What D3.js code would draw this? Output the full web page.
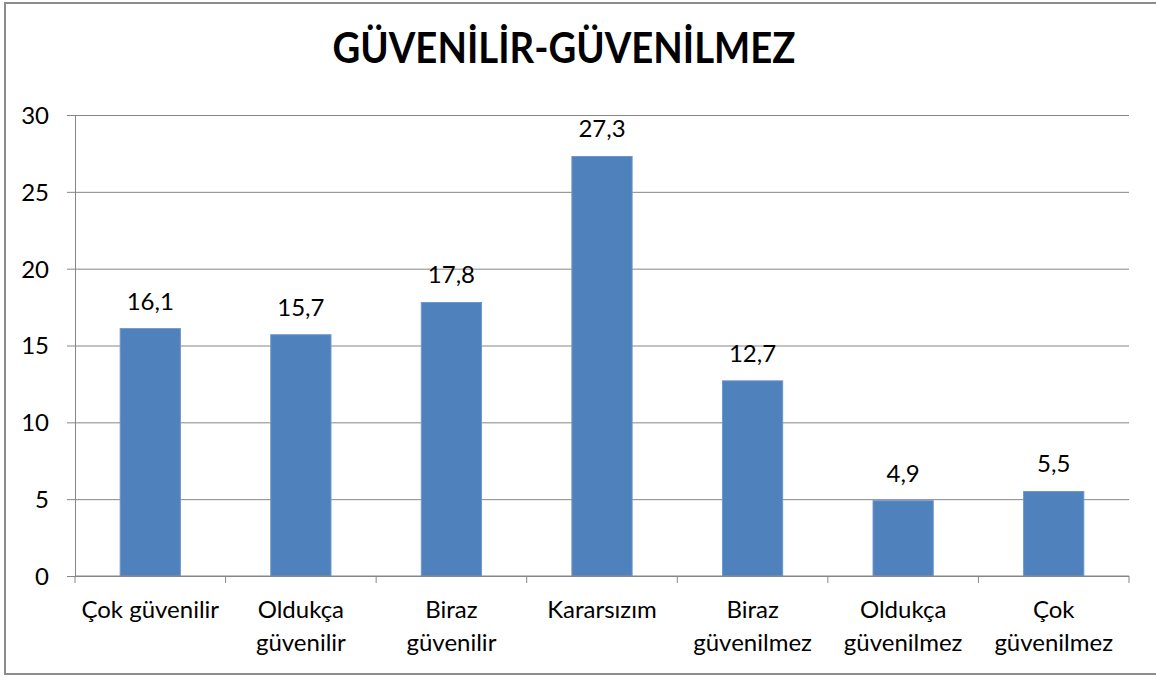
<!DOCTYPE html>
<html>
<head>
<meta charset="utf-8">
<script src="https://cdn.jsdelivr.net/npm/d3@7"></script>
<style>
  body { margin: 0; background: #fff; }
  svg text { font-family: Lato, "Open Sans", sans-serif; fill: #000; }
</style>
</head>
<body>
<div id="chart"></div>
<script>
// Chart data
var titleText = "GÜVENİLİR-GÜVENİLMEZ";
var categories = ["Çok güvenilir", "Oldukça güvenilir", "Biraz güvenilir", "Kararsızım",
                  "Biraz güvenilmez", "Oldukça güvenilmez", "Çok güvenilmez"];
var categoryLines = [["Çok güvenilir"], ["Oldukça", "güvenilir"], ["Biraz", "güvenilir"], ["Kararsızım"],
                     ["Biraz", "güvenilmez"], ["Oldukça", "güvenilmez"], ["Çok", "güvenilmez"]];
var values = [16.1, 15.7, 17.8, 27.3, 12.7, 4.9, 5.5];
var yTicks = [0, 5, 10, 15, 20, 25, 30];

var width = 1156, height = 677;
var plot = { left: 75, right: 1129, top: 115, bottom: 576 };

var svg = d3.select("#chart").append("svg")
    .attr("width", width)
    .attr("height", height);

// Outer frame
svg.append("rect")
    .attr("x", 5).attr("y", 3)
    .attr("width", 1160).attr("height", 671)
    .attr("fill", "#fff")
    .attr("stroke", "#8c8c8c")
    .attr("stroke-width", 2);

// Title
svg.append("text")
    .attr("x", 564).attr("y", 63)
    .attr("text-anchor", "middle")
    .attr("textLength", 463)
    .attr("lengthAdjust", "spacingAndGlyphs")
    .style("font-size", "42px")
    .style("font-weight", "bold")
    .text(titleText);

var x = d3.scaleBand()
    .domain(categories)
    .range([plot.left, plot.right])
    .paddingInner(0.6)
    .paddingOuter(0.3);

var y = d3.scaleLinear()
    .domain([0, 30])
    .range([plot.bottom, plot.top]);

// Gridlines + y axis
var yAxis = svg.append("g")
    .attr("transform", "translate(" + plot.left + ",0)")
    .call(d3.axisLeft(y).tickValues(yTicks).tickSize(-(plot.right - plot.left)).tickSizeOuter(0).tickPadding(0));

yAxis.select(".domain").attr("stroke", "#868686");
yAxis.selectAll(".tick line")
    .attr("stroke", "#868686")
    .attr("x1", -8);
yAxis.selectAll(".tick text")
    .attr("x", -26)
    .attr("dy", "0.35em")
    .style("font-size", "24px")
    .style("font-family", "Lato, sans-serif")
    .attr("fill", "#000");

// Bars
svg.selectAll("rect.bar")
    .data(values)
    .enter()
    .append("rect")
    .attr("class", "bar")
    .attr("x", function (d, i) { return x(categories[i]); })
    .attr("width", x.bandwidth())
    .attr("y", function (d) { return y(d); })
    .attr("height", function (d) { return y(0) - y(d); })
    .attr("fill", "#4f81bd")
    .attr("stroke", "#6e97cb")
    .attr("stroke-width", 1);

// Value labels
svg.selectAll("text.value")
    .data(values)
    .enter()
    .append("text")
    .attr("class", "value")
    .attr("x", function (d, i) { return x(categories[i]) + x.bandwidth() / 2; })
    .attr("y", function (d) { return y(d) - 19; })
    .attr("text-anchor", "middle")
    .style("font-size", "24px")
    .text(function (d) { return String(d).replace(".", ","); });

// X axis line and ticks between categories
var step = x.step();
var xAxis = svg.append("g");
xAxis.append("line")
    .attr("x1", plot.left).attr("x2", plot.right)
    .attr("y1", plot.bottom).attr("y2", plot.bottom)
    .attr("stroke", "#868686");
xAxis.selectAll("line.tick")
    .data(d3.range(categories.length + 1))
    .enter()
    .append("line")
    .attr("class", "tick")
    .attr("x1", function (i) { return plot.left + i * step; })
    .attr("x2", function (i) { return plot.left + i * step; })
    .attr("y1", plot.bottom)
    .attr("y2", plot.bottom + 7)
    .attr("stroke", "#868686");

// Category labels
var catText = svg.selectAll("text.cat")
    .data(categoryLines)
    .enter()
    .append("text")
    .attr("class", "cat")
    .attr("text-anchor", "middle")
    .style("font-size", "24px")
    .attr("transform", function (d, i) {
        return "translate(" + (x(categories[i]) + x.bandwidth() / 2) + ",618)";
    });

catText.selectAll("tspan")
    .data(function (d) { return d; })
    .enter()
    .append("tspan")
    .attr("x", 0)
    .attr("y", function (d, j) { return j * 33; })
    .text(function (d) { return d; });
</script>
</body>
</html>
